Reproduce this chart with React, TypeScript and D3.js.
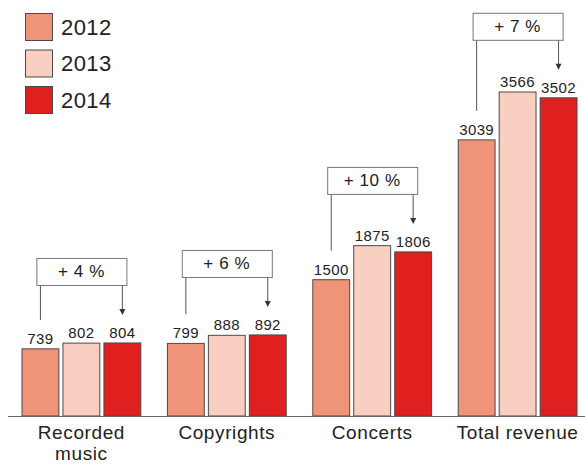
import React, { useEffect, useRef } from "react";
import * as d3 from "d3";

const categories = ["Recorded music", "Copyrights", "Concerts", "Total revenue"];
const years = ["2012", "2013", "2014"];
const values2012 = [739, 799, 1500, 3039];
const values2013 = [802, 888, 1875, 3566];
const values2014 = [804, 892, 1806, 3502];
const changeLabels = ["+ 4 %", "+ 6 %", "+ 10 %", "+ 7 %"];

const colours = ["#f09479", "#f9cfc1", "#e01f1f"];

function App() {
  const chart = useRef<SVGSVGElement | null>(null);

  useEffect(() => {
    const width = 585;
    const height = 464;
    const svg = d3.select(chart.current)
      .attr("width", width)
      .attr("height", height);
    const g = svg.append("g");

    const series = [values2012, values2013, values2014];
    const baseY = 416;

    const x0 = d3.scaleBand<string>()
      .domain(categories)
      .range([22, 577])
      .paddingInner(0.183)
      .paddingOuter(0);
    const x1 = d3.scaleBand<string>()
      .domain(years)
      .range([0, x0.bandwidth()])
      .paddingInner(0.1);
    const y = d3.scaleLinear()
      .domain([0, 3566])
      .range([baseY, 92]);

    const font = "'Liberation Sans', Arial, Helvetica, sans-serif";

    // bars
    categories.forEach((cat, ci) => {
      const grp = g.append("g").attr("transform", "translate(" + x0(cat) + ",0)");
      years.forEach((yr, yi) => {
        const v = series[yi][ci];
        grp.append("rect")
          .attr("x", x1(yr)!)
          .attr("y", y(v))
          .attr("width", x1.bandwidth())
          .attr("height", baseY - y(v))
          .attr("fill", colours[yi])
          .attr("stroke", "#4a4a4a")
          .attr("stroke-width", 1);
        grp.append("text")
          .attr("x", x1(yr)! + x1.bandwidth() / 2)
          .attr("y", y(v) - 5)
          .attr("text-anchor", "middle")
          .attr("font-family", font)
          .attr("font-size", 15)
          .attr("letter-spacing", 0.4)
          .attr("fill", "#222")
          .text(v);
      });
    });

    // baseline
    g.append("line")
      .attr("x1", 8)
      .attr("x2", 585)
      .attr("y1", baseY + 0.5)
      .attr("y2", baseY + 0.5)
      .attr("stroke", "#666")
      .attr("stroke-width", 1);

    // category labels
    categories.forEach((cat) => {
      const cx = x0(cat)! + x0.bandwidth() / 2;
      const words = cat === "Recorded music" ? ["Recorded", "music"] : [cat];
      const t = g.append("text")
        .attr("x", cx)
        .attr("y", 439)
        .attr("text-anchor", "middle")
        .attr("font-family", font)
        .attr("font-size", 19)
        .attr("letter-spacing", 0.6)
        .attr("fill", "#222");
      words.forEach((w, i) => {
        t.append("tspan")
          .attr("x", cx)
          .attr("dy", i === 0 ? 0 : 21.3)
          .text(w);
      });
    });

    // change annotations
    categories.forEach((cat, ci) => {
      const gx = x0(cat)!;
      const c1 = gx + x1("2012")! + x1.bandwidth() / 2;
      const c3 = gx + x1("2014")! + x1.bandwidth() / 2;
      const cx = gx + x0.bandwidth() / 2;
      const tipY = y(values2014[ci]) - 28;
      const boxBottom = tipY - 30;
      const boxH = 27;
      const boxW = 90;

      g.append("line")
        .attr("x1", c1).attr("x2", c1)
        .attr("y1", boxBottom).attr("y2", y(values2012[ci]) - 29)
        .attr("stroke", "#555").attr("stroke-width", 1);
      g.append("line")
        .attr("x1", c3).attr("x2", c3)
        .attr("y1", boxBottom).attr("y2", tipY - 5)
        .attr("stroke", "#555").attr("stroke-width", 1);
      g.append("path")
        .attr("d", d3.line()([[c3 - 3, tipY - 6], [c3 + 3, tipY - 6], [c3, tipY]]) + "Z")
        .attr("fill", "#333");

      g.append("rect")
        .attr("x", cx - boxW / 2 + 0.5)
        .attr("y", boxBottom - boxH + 0.5)
        .attr("width", boxW)
        .attr("height", boxH)
        .attr("fill", "#fff")
        .attr("stroke", "#777")
        .attr("stroke-width", 1);
      g.append("text")
        .attr("x", cx)
        .attr("y", boxBottom - 8)
        .attr("text-anchor", "middle")
        .attr("font-family", font)
        .attr("font-size", 17)
        .attr("letter-spacing", 0.6)
        .attr("fill", "#222")
        .text(changeLabels[ci]);
    });

    // legend
    years.forEach((yr, i) => {
      const ly = 13.5 + i * 36.5;
      g.append("rect")
        .attr("x", 25.5)
        .attr("y", ly)
        .attr("width", 27)
        .attr("height", 27)
        .attr("fill", colours[i])
        .attr("stroke", "#4a4a4a")
        .attr("stroke-width", 1);
      g.append("text")
        .attr("x", 61)
        .attr("y", ly + 21)
        .attr("font-family", font)
        .attr("font-size", 22)
        .attr("letter-spacing", 0.4)
        .attr("fill", "#222")
        .text(yr);
    });

    return () => {
      svg.selectAll("*").remove();
    };
  }, []);

  return (
    <svg ref={chart} style={{ position: "absolute", left: 0, top: 0, display: "block" }}></svg>
  );
}

export default App;
